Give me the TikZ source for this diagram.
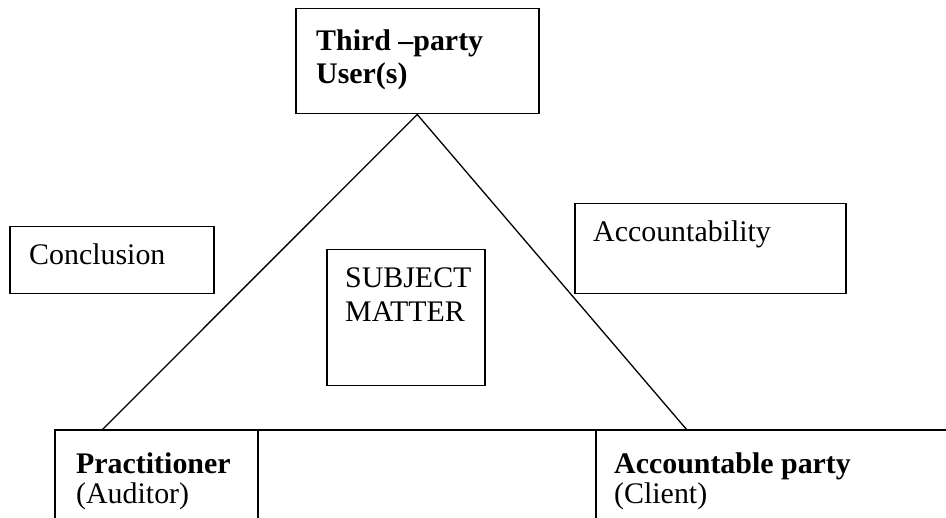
\documentclass[tikz,border=0pt]{standalone}
\usepackage{fontspec}
\setmainfont{Liberation Serif}
\begin{document}
\begin{tikzpicture}[x=1pt,y=-1pt,
  line/.style={line width=1.5pt,black},
  thin line/.style={line width=1.3pt,black},
  box/.style={draw,line width=1.5pt,anchor=north west,inner sep=0pt},
  txt/.style={anchor=base west,inner sep=0pt,font=\fontsize{29.9}{34}\selectfont},
  btxt/.style={txt,font=\fontsize{29.9}{34}\selectfont\bfseries}]
\useasboundingbox (0,0) rectangle (946,518);
% boxes
\node[box,minimum width=243pt,minimum height=105pt] (users) at (295,8) {};
\node[box,minimum width=204pt,minimum height=67pt] (concl) at (9,226) {};
\node[box,minimum width=271pt,minimum height=90pt] (acc) at (574,203) {};
\node[box,minimum width=158pt,minimum height=136pt] (subj) at (326,249) {};
% texts
\node[btxt] (t1) at (316,51) {Third –party};
\node[btxt] (t2) at (316,84) {User(s)};
\node[txt] (tc) at (29,265) {Conclusion};
\node[txt] (ta) at (593,242) {Accountability};
\node[txt] (ts1) at (345,288) {SUBJECT};
\node[txt] (ts2) at (345,322) {MATTER};
\node[btxt] (tp1) at (76,474) {Practitioner};
\node[txt] (tp2) at (76,504) {(Auditor)};
\node[btxt] (tq1) at (614,474) {Accountable party};
\node[txt] (tq2) at (614,504) {(Client)};
% bottom table
\coordinate (tl) at (55,430);
\coordinate (tr) at (946,430);
\coordinate (bl) at (55,518);
\coordinate (d1t) at (258,430);
\coordinate (d1b) at (258,518);
\coordinate (d2t) at (596,430);
\coordinate (d2b) at (596,518);
\draw[line] (bl) -- (tl) -- (tr);
\draw[line] (d1t) -- (d1b);
\draw[line] (d2t) -- (d2b);
% triangle
\coordinate (lf) at (102,430);
\coordinate (rf) at (687,430);
\draw[thin line] (lf) -- (users.south) -- (rf);
\end{tikzpicture}
\end{document}
